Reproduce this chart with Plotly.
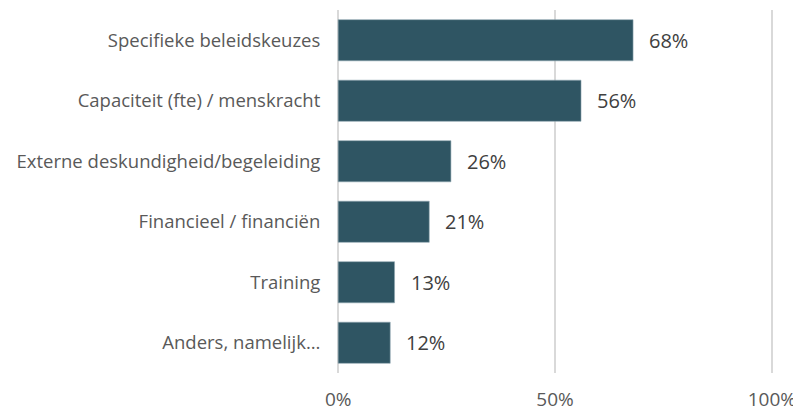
import plotly.graph_objects as go

categories = ["Specifieke beleidskeuzes", "Capaciteit (fte) / menskracht",
              "Externe deskundigheid/begeleiding", "Financieel / financiën",
              "Training", "Anders, namelijk…"]
values = [68, 56, 26, 21, 13, 12]
tick_vals = [0, 50, 100]
tick_text = ["0%", "50%", "100%"]

FONT = "Open Sans"
fig = go.Figure()
fig.add_trace(go.Bar(
    y=categories, x=values, orientation="h",
    marker=dict(color="#2F5563", line=dict(color="#8FA6B0", width=0.6)),
    width=0.68, hoverinfo="skip",
))
for c, v in zip(categories, values):
    fig.add_annotation(x=v, y=c, text=f"{v}%", showarrow=False,
                       xanchor="left", xshift=14,
                       font=dict(family=FONT, size=20, color="#404040"))

# page body has an 8px default margin, so the figure is sized 8px smaller
fig.update_layout(
    width=793, height=406,
    margin=dict(l=328, r=27, t=2, b=41),
    paper_bgcolor="white", plot_bgcolor="white",
    showlegend=False,
    font=dict(family=FONT),
    xaxis=dict(range=[-0.5, 100.5], tickvals=tick_vals, ticktext=tick_text,
               showgrid=True, gridcolor="#D9D9D9", gridwidth=2,
               zeroline=False, showline=False, automargin=False,
               ticks="outside", ticklen=9, tickcolor="rgba(0,0,0,0)",
               tickfont=dict(family=FONT, size=19, color="#595959")),
    yaxis=dict(autorange="reversed", showgrid=False, zeroline=False,
               automargin=False,
               ticks="outside", ticklen=11, tickcolor="rgba(0,0,0,0)",
               tickfont=dict(family=FONT, size=18.5, color="#595959")),
)
fig.write_html("out.html")
